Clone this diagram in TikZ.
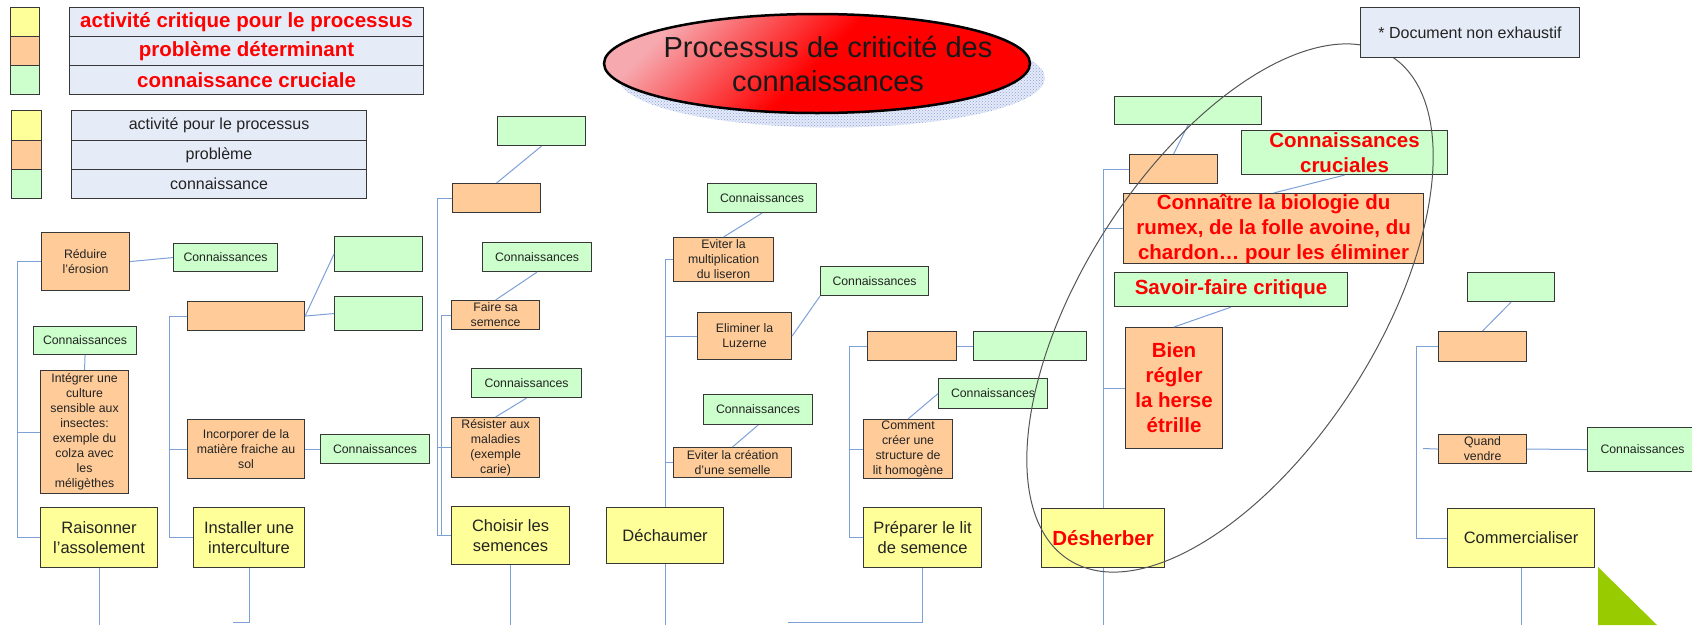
\documentclass[tikz,border=0pt]{standalone}
\usepackage{fontspec}
\setmainfont{Liberation Sans}
\usetikzlibrary{patterns,calc}
\definecolor{yel}{RGB}{255,255,153}
\definecolor{ora}{RGB}{255,204,153}
\definecolor{grn}{RGB}{204,255,204}
\definecolor{leg}{RGB}{230,236,247}
\definecolor{bordc}{RGB}{55,55,55}
\definecolor{txtc}{RGB}{35,35,35}
\definecolor{linec}{RGB}{125,160,215}
\definecolor{ellc}{RGB}{85,85,85}
\definecolor{pinkc}{RGB}{246,170,176}
\definecolor{shadc}{RGB}{140,162,218}
\definecolor{shadf}{RGB}{228,234,248}
\definecolor{olivec}{RGB}{153,204,0}
\begin{document}
\begin{tikzpicture}[x=1pt,y=-1pt,
  base/.style={draw=bordc, line width=1.1pt, inner sep=0pt, align=center, text=txtc, anchor=north west},
  ybox/.style={base, fill=yel, font=\fontsize{16.5}{20}\selectfont},
  obox/.style={base, fill=ora, font=\fontsize{12.3}{15}\selectfont},
  gbox/.style={base, fill=grn, font=\fontsize{12.3}{15}\selectfont},
  lbox/.style={base, fill=leg},
  crit/.style={font=\bfseries\fontsize{20.5}{25}\selectfont, text=red},
  conn/.style={draw=linec, line width=1pt},
  sz/.style 2 args={minimum width=#1pt, minimum height=#2pt}
]
\useasboundingbox (0,0) rectangle (1692,625);
\clip (0,0) rectangle (1692,625);

% ---------- legend ----------
\node[base, fill=yel, sz={29}{29}] (ly1) at (10,7) {};
\node[base, fill=ora, sz={29}{29}] (lo1) at (10,36) {};
\node[base, fill=grn, sz={29}{29}] (lg1) at (10,65) {};
\node[lbox, sz={354}{29}, crit, font=\bfseries\fontsize{20.5}{24}\selectfont] (lr1) at (69,7) {activité critique pour le processus};
\node[lbox, sz={354}{29}, crit, font=\bfseries\fontsize{20.5}{24}\selectfont] (lr2) at (69,36) {problème déterminant};
\node[lbox, sz={354}{29}, crit, font=\bfseries\fontsize{20.5}{24}\selectfont] (lr3) at (69,65) {connaissance cruciale};

\node[base, fill=yel, sz={30}{30}] (ly2) at (11,110) {};
\node[base, fill=ora, sz={30}{29}] (lo2) at (11,140) {};
\node[base, fill=grn, sz={30}{29}] (lg2) at (11,169) {};
\node[lbox, sz={295}{30}, font=\fontsize{16}{19}\selectfont] (ls1) at (71,110) {activité pour le processus};
\node[lbox, sz={295}{29}, font=\fontsize{16}{19}\selectfont] (ls2) at (71,140) {problème};
\node[lbox, sz={295}{29}, font=\fontsize{16}{19}\selectfont] (ls3) at (71,169) {connaissance};

% ---------- title ----------
\path[fill=shadf] (832,78) ellipse [x radius=213pt, y radius=49.5pt];
\path[pattern=crosshatch dots, pattern color=shadc] (832,78) ellipse [x radius=213pt, y radius=49.5pt];
\path[draw=black, line width=2.5pt, top color=pinkc, bottom color=red, middle color=red, shading angle=45] (817,63.5) ellipse [x radius=213pt, y radius=49.5pt];
\node[align=center, text=black!90, font=\fontsize{29}{34}\selectfont] (title) at (828,64) {Processus de criticité des\\connaissances};

% ---------- column 1 ----------
\node[obox, sz={88}{58}] (r1) at (41,232) {Réduire\\l'érosion};
\node[gbox, sz={104}{28}] (c1) at (173,243) {Connaissances};
\node[gbox, sz={103}{28}] (c2) at (33,326) {Connaissances};
\node[obox, sz={88}{123}] (r2) at (40,370) {Intégrer une\\culture\\sensible aux\\insectes:\\exemple du\\colza avec\\les\\méligèthes};
\node[ybox, sz={117}{60}] (a1) at (40,507) {Raisonner\\l'assolement};

% ---------- column 2 ----------
\node[obox, sz={117}{29}] (o2) at (187,301) {};
\node[gbox, sz={88}{35}] (g2a) at (334,236) {};
\node[gbox, sz={88}{34}] (g2b) at (334,296) {};
\node[obox, sz={117}{59}] (r3) at (187,419) {Incorporer de la\\matière fraiche au\\sol};
\node[gbox, sz={109}{29}] (c3) at (320,434) {Connaissances};
\node[ybox, sz={111}{60}] (a2) at (193,507) {Installer une\\interculture};

% ---------- column 3 ----------
\node[gbox, sz={88}{29}] (g3) at (497,116) {};
\node[obox, sz={88}{29}] (o3) at (452,183) {};
\node[gbox, sz={109}{29}] (c4) at (482,242) {Connaissances};
\node[obox, sz={88}{29}] (r4) at (451,300) {Faire sa\\semence};
\node[gbox, sz={110}{29}] (c5) at (471,368) {Connaissances};
\node[obox, sz={88}{60}] (r5) at (451,417) {Résister aux\\maladies\\(exemple\\carie)};
\node[ybox, sz={118}{58}] (a3) at (451,506) {Choisir les\\semences};

% ---------- column 4 ----------
\node[gbox, sz={109}{29}] (c6) at (707,183) {Connaissances};
\node[obox, sz={100}{44}] (r6) at (673,237) {Eviter la\\multiplication\\du liseron};
\node[obox, sz={94}{47}] (r7) at (697,312) {Eliminer la\\Luzerne};
\node[gbox, sz={108}{29}] (c7) at (820,266) {Connaissances};
\node[gbox, sz={109}{30}] (c8) at (703,394) {Connaissances};
\node[obox, sz={118}{30}] (r8) at (673,447) {Eviter la création\\d'une semelle};
\node[ybox, sz={117}{56}] (a4) at (606,507) {Déchaumer};

% ---------- column 5 ----------
\node[obox, sz={89}{29}] (o5) at (867,331) {};
\node[gbox, sz={113}{29}] (g5) at (973,331) {};
\node[gbox, sz={109}{30}] (c9) at (938,378) {Connaissances};
\node[obox, sz={89}{59}] (r9) at (863,419) {Comment\\créer une\\structure de\\lit homogène};
\node[ybox, sz={118}{60}] (a5) at (863,507) {Préparer le lit\\de semence};

% ---------- column 6 ----------
\node[gbox, sz={147}{28}] (g6) at (1114,96) {};
\node[obox, sz={88}{29}] (o6) at (1129,154) {};
\node[gbox, sz={206}{44}, crit] (cc) at (1241,130) {Connaissances\\cruciales};
\node[obox, sz={300}{70}, crit] (r10) at (1123,193) {Connaître la biologie du\\rumex, de la folle avoine, du\\chardon… pour les éliminer};
\node[gbox, sz={233}{34}, crit] (sf) at (1114,272) {Savoir-faire critique};
\node[obox, sz={97}{121}, crit] (r11) at (1125,327) {Bien\\régler\\la herse\\étrille};
\node[ybox, sz={123}{59}, crit] (a6) at (1041,508) {Désherber};

% ---------- column 7 ----------
\node[gbox, sz={87}{29}] (g7) at (1467,272) {};
\node[obox, sz={88}{30}] (o7) at (1438,331) {};
\node[obox, sz={88}{29}] (r12) at (1438,434) {Quand\\vendre};
\node[gbox, sz={110}{44}] (c10) at (1587,427) {Connaissances};
\node[ybox, sz={147}{59}] (a7) at (1447,508) {Commercialiser};

% ---------- trunk coordinates ----------
\coordinate (t1) at (17,0);
\coordinate (t2) at (169,0);
\coordinate (t3) at (437,0);
\coordinate (t3b) at (441,0);
\coordinate (t5) at (849,0);
\coordinate (t7) at (1416,0);
\coordinate (bot) at (0,625);
\coordinate (bot2) at (0,622);
\coordinate (q7) at (1423,448.5);
\coordinate (e2) at (233,622);
\coordinate (e5) at (788,622);

% ---------- connectors ----------
% column 1
\draw[conn] (r1.west) -- (r1.west -| t1) -- (a1.west -| t1) -- (a1.west);
\draw[conn] (r2.west) -- (r2.west -| t1);
\draw[conn] (r1.east) -- (c1.west);
\draw[conn] (c2.south) -- (r2.north);
\draw[conn] (a1.south) -- (a1.south |- bot);
% column 2
\draw[conn] (o2.west) -- (o2.west -| t2) -- (a2.west -| t2) -- (a2.west);
\draw[conn] (r3.west) -- (r3.west -| t2);
\draw[conn] (o2.east) -- (g2a.west);
\draw[conn] (o2.east) -- (g2b.west);
\draw[conn] (r3.east) -- (c3.west);
\draw[conn] (a2.south) -- (a2.south |- bot2) -- (e2);
% column 3
\draw[conn] (o3.west) -- (o3.west -| t3) -- (a3.west -| t3) -- (a3.west);
\draw[conn] (r4.west) -- (r4.west -| t3b) -- (a3.west -| t3b);
\draw[conn] (r5.west) -- (r5.west -| t3);
\draw[conn] (g3.south) -- (o3.north);
\draw[conn] (c4.south) -- (r4.north);
\draw[conn] (c5.south) -- (r5.north);
\draw[conn] (a3.south) -- (a3.south |- bot);
% column 4
\draw[conn] (r6.west) -| (a4.north);
\draw[conn] (r7.west) -- (r7.west -| a4.north);
\draw[conn] (r8.west) -- (r8.west -| a4.north);
\draw[conn] (c6.south) -- (r6.north);
\draw[conn] (r7.east) -- (c7.south west);
\draw[conn] (c8.south) -- (r8.north);
\draw[conn] (a4.south) -- (a4.south |- bot);
% column 5
\draw[conn] (o5.west) -- (o5.west -| t5) -- (a5.west -| t5) -- (a5.west);
\draw[conn] (r9.west) -- (r9.west -| t5);
\draw[conn] (o5.east) -- (g5.west);
\draw[conn] (c9.west) -- (r9.north);
\draw[conn] (a5.south) -- (a5.south |- bot2) -- (e5);
% column 6
\draw[conn] (o6.west) -| (a6.north);
\draw[conn] (r10.west) -- (r10.west -| a6.north);
\draw[conn] (r11.west) -- (r11.west -| a6.north);
\draw[conn] (g6.south) -- (o6.north);
\draw[conn] (cc.south) -- (r10.north);
\draw[conn] (sf.south) -- (r11.north);
\draw[conn] (a6.south) -- (a6.south |- bot);
% column 7
\draw[conn] (o7.west) -- (o7.west -| t7) -- (a7.west -| t7) -- (a7.west);
\draw[conn] (q7) -- (r12.west);
\draw[conn] (g7.south) -- (o7.north);
\draw[conn] (r12.east) -- (c10.west);
\draw[conn] (a7.south) -- (a7.south |- bot);

% ---------- big ellipse ----------
\draw[ellc, line width=1pt, rotate around={57.4:(1230,308)}] (1230,308) ellipse [x radius=299pt, y radius=147pt];

% ---------- note ----------
\node[lbox, sz={219}{50}, font=\fontsize{16}{19}\selectfont] (note) at (1360,7) {* Document non exhaustif};

% ---------- corner triangle ----------
\fill[olivec] (1598,567) -- (1598,625) -- (1657,625) -- cycle;
\end{tikzpicture}
\end{document}
